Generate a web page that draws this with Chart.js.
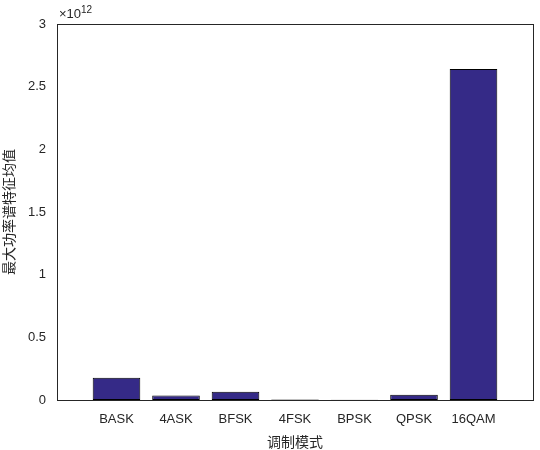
<!DOCTYPE html>
<html>
<head>
<meta charset="utf-8">
<script src="https://cdn.jsdelivr.net/npm/chart.js@4/dist/chart.umd.min.js"></script>
<style>body{margin:0;background:#fff}#c{width:540px;height:450px}</style>
</head>
<body>
<canvas id="c" width="540" height="450"></canvas>
<script>
// Modulation types and their max power-spectrum feature mean (x 1e12)
const categories = ['BASK', '4ASK', 'BFSK', '4FSK', 'BPSK', 'QPSK', '16QAM'];
const values = [0.178, 0.035, 0.065, 0.003, 0.002, 0.042, 2.64];
const yTicks = [0, 0.5, 1, 1.5, 2, 2.5, 3];

const FONT = 'Liberation Sans, Arial, sans-serif';

const exponentLabel = {
    id: 'exponentLabel',
    afterDraw(chart) {
        const ctx = chart.ctx, a = chart.chartArea;
        ctx.save();
        ctx.fillStyle = '#262626';
        ctx.font = '13px ' + FONT;
        ctx.textBaseline = 'bottom';
        ctx.fillText('\u00d710', a.left + 2, a.top - 3);
        ctx.font = '10px ' + FONT;
        ctx.fillText('12', a.left + 24, a.top - 9);
        ctx.restore();
    }
};

new Chart(document.getElementById('c'), {
    type: 'bar',
    data: {
        datasets: [{
            data: values.map((v, i) => ({ x: i + 1, y: v })),
            backgroundColor: '#352a87',
            borderColor: '#000',
            borderWidth: 1,
            borderSkipped: false,
            barPercentage: 0.8,
            categoryPercentage: 1
        }]
    },
    options: {
        responsive: false,
        animation: false,
        layout: { padding: { top: 24, right: 7, left: 0, bottom: 0 } },
        plugins: { legend: { display: false }, tooltip: { enabled: false } },
        scales: {
            x: {
                type: 'linear', min: 0, max: 8, offset: false,
                afterBuildTicks: s => { s.ticks = categories.map((c, i) => ({ value: i + 1 })); },
                afterFit: s => { s.height = 50; },
                ticks: {
                    callback: v => categories[v - 1] || '',
                    color: '#262626', font: { family: FONT, size: 13 }, maxRotation: 0, autoSkip: false, padding: 4
                },
                grid: { display: false },
                border: { color: '#262626' },
                title: { display: true, text: '调制模式', color: '#262626', font: { family: 'Noto Sans CJK SC', size: 14 }, padding: 0 }
            },
            y: {
                min: 0, max: 3,
                afterBuildTicks: s => { s.ticks = yTicks.map(v => ({ value: v })); },
                afterFit: s => { s.width = 57; },
                ticks: { callback: v => String(v), color: '#262626', font: { family: FONT, size: 13 } },
                grid: { display: false },
                border: { color: '#262626' },
                title: { display: true, text: '最大功率谱特征均值', color: '#262626', font: { family: 'Noto Sans CJK SC', size: 14 }, padding: 0 }
            },
            x2: { position: 'top', type: 'linear', min: 0, max: 8, offset: false, afterFit: s => { s.height = 0; }, ticks: { display: false }, grid: { display: false }, border: { color: '#262626' } },
            y2: { position: 'right', min: 0, max: 3, afterFit: s => { s.width = 0; }, ticks: { display: false }, grid: { display: false }, border: { color: '#262626' } }
        }
    },
    plugins: [exponentLabel]
});
</script>
</body>
</html>
